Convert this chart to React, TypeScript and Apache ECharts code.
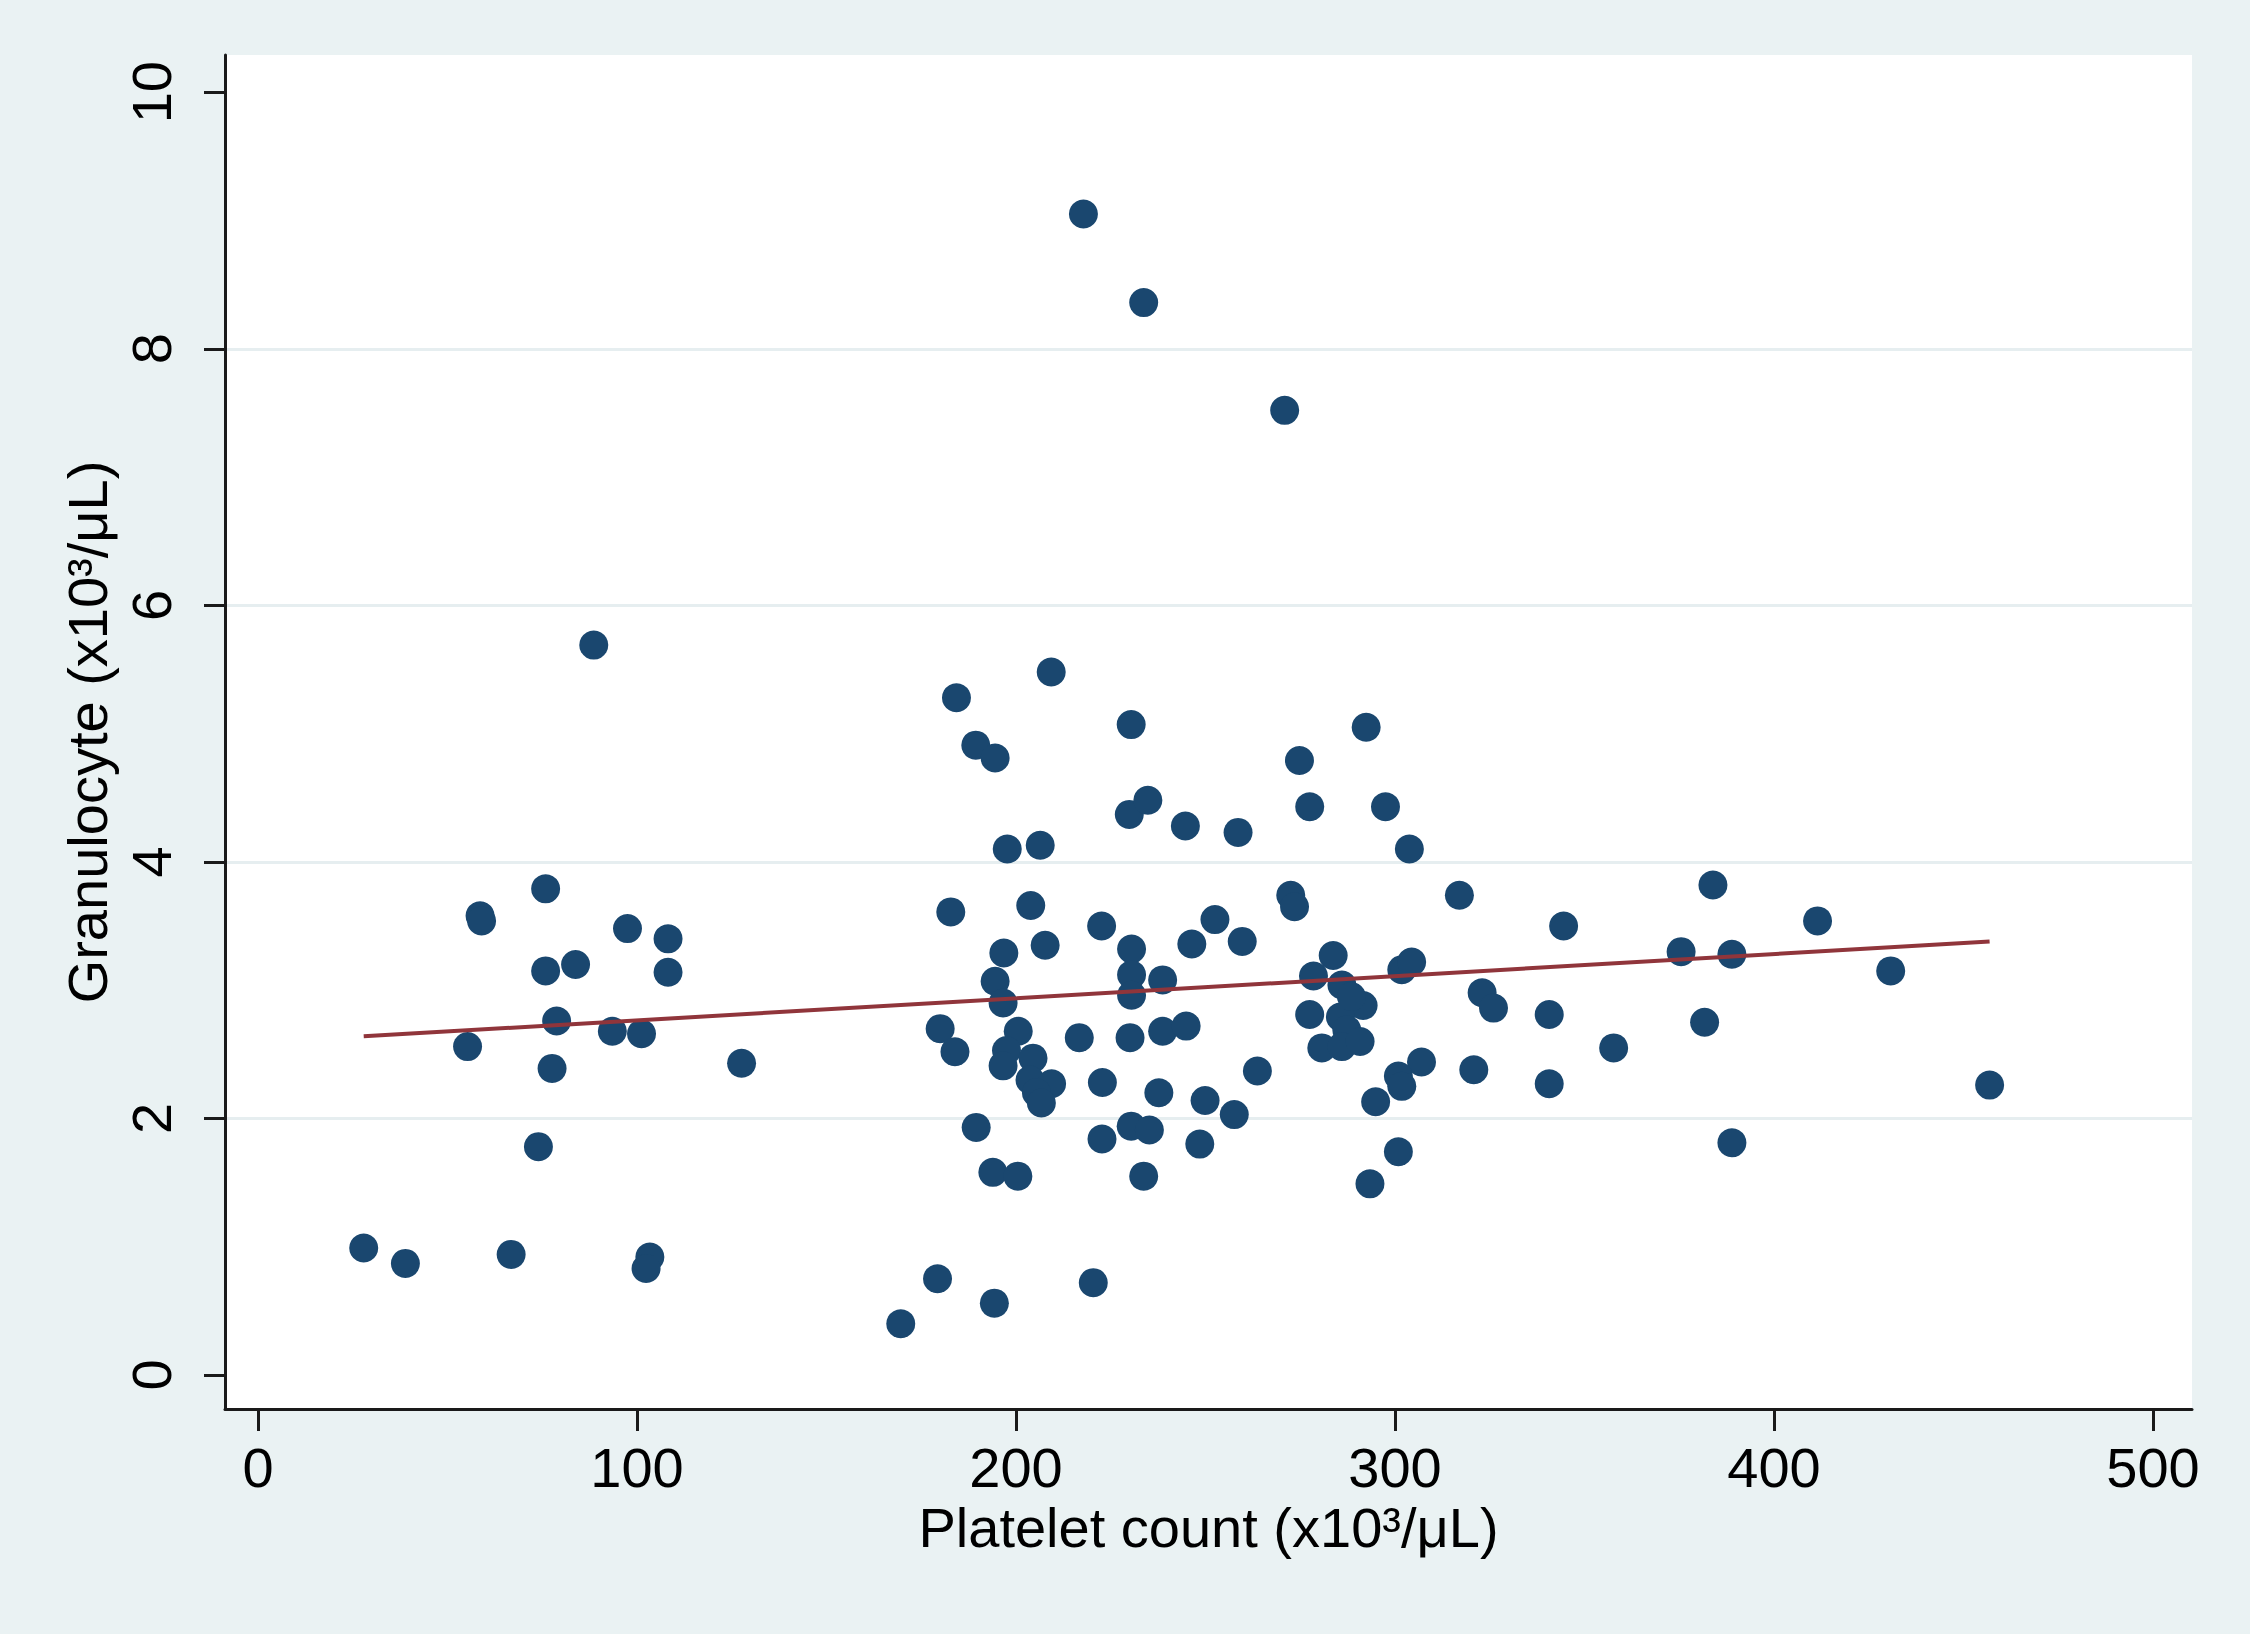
import React, { useEffect, useRef } from "react";
import * as echarts from "echarts";

const plateletCount = [
  27.9, 38.9, 66.8, 55.3, 58.6, 59.0, 75.9, 75.9, 83.8, 78.8, 77.6, 74.0, 88.6, 97.5, 93.5, 101.2, 108.2, 108.2, 103.4, 102.4, 127.6,
  169.6, 179.3, 194.3, 220.4, 217.8, 233.7, 270.9, 184.3, 209.3, 189.4, 194.5, 230.4, 229.9, 234.8, 244.7, 258.6, 197.7, 206.4,
  182.8, 203.9, 222.6, 252.5, 246.4, 259.7, 207.7, 196.8, 230.5, 194.5, 196.6, 230.5, 230.5, 238.7, 180.0, 183.9, 200.6, 216.7,
  230.1, 238.7, 244.9, 197.5, 196.6, 204.5, 203.7, 209.4, 205.4, 206.7, 222.8, 237.7, 249.9, 257.6, 263.7, 189.5, 193.9, 200.5,
  222.7, 230.4, 235.2, 233.7, 248.5,
  292.4, 274.8, 277.5, 297.5, 303.8, 317.0, 272.5, 273.5, 283.7, 278.5, 286.0, 291.6, 285.6, 277.5, 287.3, 280.7, 286.0, 290.8,
  301.8, 304.4, 307.0, 300.9, 301.8, 294.9, 300.9, 293.4, 323.0, 326.0, 320.8, 288.5,
  344.5, 340.7, 340.7, 357.7, 375.5, 383.9, 381.7, 388.9, 388.9, 411.5, 430.8, 456.9,
];

const granulocyte = [
  0.99, 0.87, 0.94, 2.56, 3.58, 3.54, 3.79, 3.15, 3.2, 2.76, 2.39, 1.78, 5.69, 3.48, 2.68, 2.66, 3.4, 3.14, 0.92, 0.83, 2.43,
  0.4, 0.75, 0.56, 0.72, 9.05, 8.36, 7.52, 5.28, 5.48, 4.91, 4.81, 5.07, 4.37, 4.48, 4.28, 4.23, 4.1, 4.13,
  3.61, 3.66, 3.5, 3.55, 3.36, 3.38, 3.35, 3.29, 3.32, 3.07, 2.9, 3.12, 2.96, 3.08, 2.7, 2.52, 2.68, 2.63,
  2.63, 2.68, 2.72, 2.53, 2.41, 2.47, 2.3, 2.27, 2.2, 2.12, 2.28, 2.2, 2.14, 2.03, 2.37, 1.93, 1.58, 1.55,
  1.84, 1.94, 1.91, 1.55, 1.8,
  5.05, 4.79, 4.43, 4.43, 4.1, 3.74, 3.74, 3.65, 3.27, 3.11, 3.04, 2.88, 2.79, 2.81, 2.69, 2.55, 2.56, 2.6,
  3.16, 3.22, 2.44, 2.33, 2.25, 2.13, 1.74, 1.49, 2.98, 2.86, 2.38, 2.95,
  3.5, 2.81, 2.27, 2.55, 3.3, 3.82, 2.75, 3.28, 1.81, 3.54, 3.15, 2.26,
];

const fitX = [27.9, 456.9];
const fitY = [2.64, 3.38];

const xTicks = [0, 100, 200, 300, 400, 500];
const yTicks = [0, 2, 4, 6, 8, 10];

const FONT = "'Liberation Sans', Arial, Helvetica, sans-serif";

export default function App() {
  const ref = useRef<HTMLDivElement>(null);
  useEffect(() => {
    document.body.style.margin = "0";
    const chart = echarts.init(ref.current!, undefined, { renderer: "svg" });
    const points = plateletCount.map((x, i) => [x, granulocyte[i]]);
    const fit = fitX.map((x, i) => [x, fitY[i]]);
    chart.setOption({
      animation: false,
      backgroundColor: "#EAF2F3",
      grid: {
        left: 225,
        right: 58,
        top: 55,
        bottom: 225,
        show: true,
        backgroundColor: "#ffffff",
        borderWidth: 0,
      },
      xAxis: {
        type: "value",
        min: -8.7,
        max: 510.3,
        name: "Platelet count (x10³/μL)",
        nameLocation: "middle",
        nameGap: 84,
        nameTextStyle: { fontFamily: FONT, fontSize: 56, color: "#000" },
        axisLine: { show: true, onZero: false, lineStyle: { color: "#1a1a1a", width: 3 } },
        axisTick: { show: true, length: 22, lineStyle: { color: "#1a1a1a", width: 3 }, customValues: xTicks },
        axisLabel: { fontFamily: FONT, fontSize: 56, color: "#000", margin: 30, customValues: xTicks },
        splitLine: { show: false },
      },
      yAxis: {
        type: "value",
        min: -0.265,
        max: 10.29,
        name: "Granulocyte (x10³/μL)",
        nameLocation: "middle",
        nameGap: 108,
        nameTextStyle: { fontFamily: FONT, fontSize: 56, color: "#000" },
        axisLine: { show: true, onZero: false, lineStyle: { color: "#1a1a1a", width: 3 } },
        axisTick: { show: true, length: 21, lineStyle: { color: "#1a1a1a", width: 3 }, customValues: yTicks },
        axisLabel: { fontFamily: FONT, fontSize: 56, color: "#000", margin: 46, rotate: 90, customValues: yTicks },
        splitLine: {
          show: true,
          showMinLine: false,
          showMaxLine: false,
          lineStyle: { color: "#E6EEF0", width: 3 },
        },
      },
      series: [
        {
          type: "scatter",
          data: points,
          symbol: "circle",
          symbolSize: 29,
          itemStyle: { color: "#1A476F", opacity: 1 },
          z: 2,
        },
        {
          type: "line",
          data: fit,
          symbol: "none",
          lineStyle: { color: "#90353B", width: 4 },
          z: 3,
        },
      ],
    });
    return () => chart.dispose();
  }, []);
  return <div ref={ref} style={{ width: 2250, height: 1634 }} />;
}
